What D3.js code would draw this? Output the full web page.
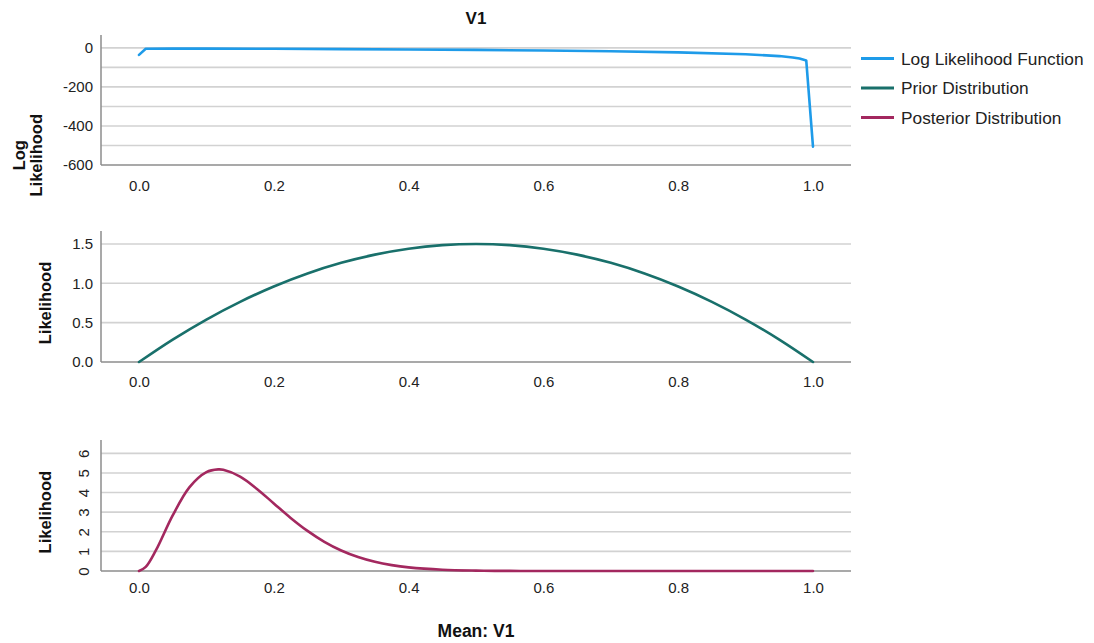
<!DOCTYPE html>
<html>
<head>
<meta charset="utf-8">
<script src="https://cdn.jsdelivr.net/npm/d3@7/dist/d3.min.js"></script>
<style>
  html, body { margin: 0; padding: 0; background: #ffffff; }
  svg { display: block; font-family: "Liberation Sans", Arial, sans-serif; }
</style>
</head>
<body>
<svg id="chart" width="1094" height="643"></svg>
<script>
// Grid of evaluation points for the mean of V1
const meanGridLog = [0, 0.01, 0.05, 0.1, 0.2, 0.3, 0.4, 0.5, 0.6, 0.7, 0.8, 0.9, 0.95, 0.97, 0.98, 0.99, 1.0];
const logLikelihood = [-36, -4.75, -3.71, -3.78, -4.73, -6.20, -8.07, -10.40, -13.34, -17.21, -22.76, -32.34, -41.99, -49.13, -54.79, -64.48, -506];

const meanGridPrior = [0, 0.05, 0.1, 0.15, 0.2, 0.25, 0.3, 0.35, 0.4, 0.45, 0.5, 0.55, 0.6, 0.65, 0.7, 0.75, 0.8, 0.85, 0.9, 0.95, 1.0];
const priorDensity = [0, 0.285, 0.54, 0.765, 0.96, 1.125, 1.26, 1.365, 1.44, 1.485, 1.5, 1.485, 1.44, 1.365, 1.26, 1.125, 0.96, 0.765, 0.54, 0.285, 0];

const meanGridPost = [0, 0.01, 0.025, 0.05, 0.075, 0.1, 0.1176, 0.125, 0.15, 0.175, 0.2, 0.225, 0.25, 0.275, 0.3, 0.325, 0.35, 0.375, 0.4, 0.45, 0.5, 0.55, 0.6, 0.7, 0.8, 0.9, 1.0];
const posteriorDensity = [0, 0.207, 1.047, 2.835, 4.276, 5.040, 5.180, 5.160, 4.812, 4.186, 3.445, 2.708, 2.045, 1.488, 1.046, 0.711, 0.468, 0.299, 0.184, 0.063, 0.019, 0.005, 0.001, 0, 0, 0, 0];

const xTicks = [0, 0.2, 0.4, 0.6, 0.8, 1.0];
const logTicks = [0, -200, -400, -600];
const logGrid = [0, -100, -200, -300, -400, -500];
const priorTicks = [0, 0.5, 1.0, 1.5];
const postTicks = [0, 1, 2, 3, 4, 5, 6];

const seriesNames = ["Log Likelihood Function", "Prior Distribution", "Posterior Distribution"];
const seriesColors = ["#1e9be9", "#19706b", "#a3285f"];

const svg = d3.select("#chart");
const left = 101, right = 851;
const pad = 0.0564;
const x = d3.scaleLinear().domain([-pad, 1 + pad]).range([left, right]);

// plain hyphen for negative numbers
const intFmt = d => String(Math.round(d));
const oneDec = d => d.toFixed(1);

const panels = [
  { top: 35, bottom: 165, domain: [-600, 66], ticks: logTicks, grid: logGrid, fmt: intFmt,
    xs: meanGridLog, ys: logLikelihood, color: seriesColors[0], curve: d3.curveLinear,
    title: ["Log", "Likelihood"], rotateTicks: false, xLabelY: 195 },
  { top: 231, bottom: 362, domain: [0, 1.665], ticks: priorTicks, grid: priorTicks.slice(1), fmt: oneDec,
    xs: meanGridPrior, ys: priorDensity, color: seriesColors[1], curve: d3.curveMonotoneX,
    title: ["Likelihood"], rotateTicks: false, xLabelY: 391 },
  { top: 440, bottom: 571, domain: [0, 6.68], ticks: postTicks, grid: postTicks.slice(1), fmt: intFmt,
    xs: meanGridPost, ys: posteriorDensity, color: seriesColors[2], curve: d3.curveCatmullRom,
    title: ["Likelihood"], rotateTicks: true, xLabelY: 597 }
];

panels.forEach(p => {
  const y = d3.scaleLinear().domain(p.domain).range([p.bottom, p.top]);
  const g = svg.append("g");

  // horizontal gridlines
  g.selectAll("line.grid").data(p.grid).join("line")
    .attr("x1", left).attr("x2", right)
    .attr("y1", d => y(d)).attr("y2", d => y(d))
    .attr("stroke", "#d2d2d2").attr("stroke-width", 1.6);

  // axis lines
  g.append("line").attr("x1", left).attr("x2", left).attr("y1", p.top).attr("y2", p.bottom)
    .attr("stroke", "#8c8c8c").attr("stroke-width", 1.5);
  g.append("line").attr("x1", left).attr("x2", right).attr("y1", p.bottom).attr("y2", p.bottom)
    .attr("stroke", "#8c8c8c").attr("stroke-width", 1.5);

  // x tick labels
  const xa = g.append("g").attr("transform", `translate(0,${p.xLabelY - 15})`)
    .call(d3.axisBottom(x).tickValues(xTicks).tickFormat(oneDec).tickSize(0).tickPadding(0));
  xa.select(".domain").remove();
  xa.selectAll("text").attr("font-size", 15).attr("fill", "#222").attr("font-family", null);

  // y tick labels
  const ya = g.append("g").attr("transform", `translate(${left - 8},0)`)
    .call(d3.axisLeft(y).tickValues(p.ticks).tickFormat(p.fmt).tickSize(0).tickPadding(0));
  ya.select(".domain").remove();
  ya.selectAll("text").attr("font-size", 15).attr("fill", "#222").attr("font-family", null);
  if (p.rotateTicks) {
    ya.selectAll(".tick text")
      .attr("x", 0).attr("dy", null)
      .attr("transform", "translate(-10,0) rotate(-90)")
      .attr("text-anchor", "middle").attr("dominant-baseline", "central");
  }

  // y-axis title
  const cy = (y(p.grid[p.grid.length - 1]) + p.bottom) / 2;
  const n = p.title.length;
  p.title.forEach((t, i) => {
    const cx = n === 1 ? 45 : (i === 0 ? 19 : 36);
    svg.append("text")
      .attr("transform", `translate(${cx},${cy}) rotate(-90)`)
      .attr("text-anchor", "middle").attr("dominant-baseline", "central")
      .attr("font-size", 16.5).attr("font-weight", "bold").attr("fill", "#111")
      .text(t);
  });

  // series line
  const line = d3.line().x(d => x(d[0])).y(d => y(d[1])).curve(p.curve);
  g.append("path").datum(p.xs.map((v, i) => [v, p.ys[i]]))
    .attr("d", line).attr("fill", "none")
    .attr("stroke", p.color).attr("stroke-width", 2.6)
    .attr("stroke-linejoin", "round").attr("stroke-linecap", "round");
});

// chart title and shared x-axis title
svg.append("text").attr("x", 476).attr("y", 24).attr("text-anchor", "middle")
  .attr("font-size", 17).attr("font-weight", "bold").attr("fill", "#111").text("V1");
svg.append("text").attr("x", 476).attr("y", 637).attr("text-anchor", "middle")
  .attr("font-size", 17.5).attr("font-weight", "bold").attr("fill", "#111").text("Mean: V1");

// legend
const legend = svg.append("g");
seriesNames.forEach((name, i) => {
  const ly = 58.5 + i * 29.5;
  legend.append("line").attr("x1", 861).attr("x2", 894).attr("y1", ly).attr("y2", ly)
    .attr("stroke", seriesColors[i]).attr("stroke-width", 3);
  legend.append("text").attr("x", 901).attr("y", ly).attr("dominant-baseline", "central")
    .attr("font-size", 17.3).attr("fill", "#222").text(name);
});
</script>
</body>
</html>
